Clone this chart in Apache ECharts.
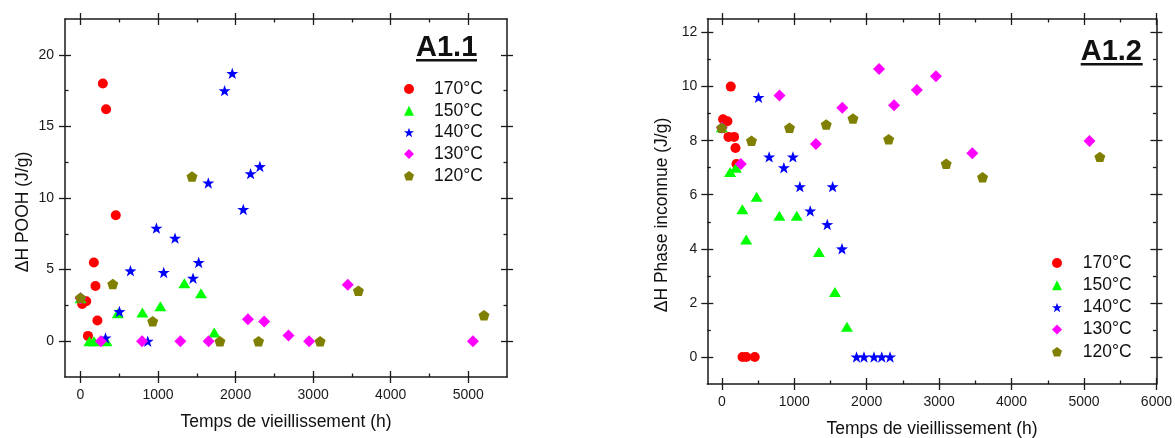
<!DOCTYPE html>
<html>
<head>
<meta charset="utf-8">
<script src="https://cdn.jsdelivr.net/npm/echarts@6/dist/echarts.min.js"></script>
<style>
html,body{margin:0;padding:0;background:#fff;}
#c{width:1175px;height:438px;}
</style>
</head>
<body>
<div id="c"></div>
<script>
// ---- Data ----
const seriesNames = ['170°C', '150°C', '140°C', '130°C', '120°C'];

// A1.1 : ΔH POOH (J/g) vs Temps (h)
const a11_170 = [[21,2.6],[74,2.79],[96,0.37],[172,5.5],[193,3.86],[218,1.44],[288,18.0],[330,16.2],[455,8.8]];
const a11_150 = [[0,3.0],[115,0],[175,0],[335,0],[481,1.95],[798,2.0],[1030,2.44],[1339,4.04],[1554,3.34],[1725,0.6]];
const a11_140 = [[322,0.23],[502,2.07],[644,4.92],[867,0],[979,7.9],[1073,4.8],[1219,7.2],[1451,4.4],[1524,5.5],[1648,11.05],[1858,17.5],[1957,18.7],[2099,9.2],[2193,11.7],[2313,12.2]];
const a11_130 = [[0,3.0],[262,0],[794,0],[1288,0],[1652,0],[2159,1.53],[2369,1.37],[2682,0.39],[2948,0],[3446,3.95],[5061,0]];
const a11_120 = [[0,3.04],[416,4.0],[931,1.39],[1438,11.5],[1798,0],[2296,0],[3090,0],[3584,3.53],[5203,1.81]];

// A1.2 : ΔH Phase inconnue (J/g) vs Temps (h)
const a12_170 = [[18,8.79],[78,8.72],[92,8.14],[124,10.0],[170,8.14],[189,7.73],[203,7.14],[286,0],[338,0],[455,0]];
const a12_150 = [[0,8.5],[115,6.84],[194,7.0],[284,5.46],[337,4.34],[481,5.93],[795,5.22],[1035,5.22],[1341,3.88],[1562,2.4],[1728,1.12]];
const a12_140 = [[507,9.6],[654,7.4],[857,7.0],[982,7.4],[1078,6.3],[1221,5.4],[1456,4.9],[1530,6.3],[1659,4.0],[1860,0],[1963,0],[2101,0],[2208,0],[2323,0]];
const a12_130 = [[0,8.48],[263,7.14],[797,9.67],[1300,7.88],[1664,9.22],[2171,10.65],[2378,9.31],[2693,9.87],[2956,10.38],[3458,7.53],[5076,7.99]];
const a12_120 = [[0,8.48],[410,8.0],[935,8.48],[1442,8.6],[1811,8.82],[2304,8.05],[3098,7.15],[3600,6.65],[5219,7.4]];

// Tick values
const xMajorL = [0,1000,2000,3000,4000,5000];
const xMinorL = [500,1500,2500,3500,4500];
const yMajorL = [0,5,10,15,20];
const yMinorL = [2.5,7.5,12.5,17.5];
const xMajorR = [0,1000,2000,3000,4000,5000,6000];
const xMinorR = [500,1500,2500,3500,4500,5500];
const yMajorR = [0,2,4,6,8,10,12];
const yMinorR = [1,3,5,7,9,11];

// ---- Styling helpers ----
const FONT = "'Liberation Sans', Arial, sans-serif";
const AX = '#1a1a1a';
const colors = ['#ff0000', '#00ff00', '#0000ff', '#ff00ff', '#808000'];
const STAR = 'path://M50,0L61.76,33.8L97.55,34.55L69,56.2L79.4,90.45L50,70L20.6,90.45L31,56.2L2.45,34.55L38.24,33.8Z';
const PENT = 'path://M50,0L97.55,34.55L79.4,90.45L20.6,90.45L2.45,34.55Z';
const symbols = ['circle', 'triangle', STAR, 'diamond', PENT];
const sizes = [10, [12, 10], 12, 12, 11];

function axesFor(grid, pos, min, max, majors, minors, withLabels, margin) {
  const base = {gridIndex: grid, type: 'value', min: min, max: max, position: pos,
    splitLine: {show: false}, silent: true};
  const tickStyle = {color: AX, width: 1.3};
  return [
    Object.assign({}, base, {
      axisLine: {show: true, onZero: false, lineStyle: {color: AX, width: 1.5}},
      axisTick: {show: true, inside: false, length: 6, customValues: majors, lineStyle: tickStyle},
      axisLabel: withLabels ? {show: true, customValues: majors, margin: margin, fontSize: 14,
        color: AX, fontFamily: FONT, formatter: function (v) { return String(v); }} : {show: false}
    }),
    Object.assign({}, base, {
      axisLine: {show: false, onZero: false},
      axisTick: {show: true, inside: true, length: 6, customValues: majors, lineStyle: tickStyle},
      axisLabel: {show: false}
    }),
    Object.assign({}, base, {
      axisLine: {show: false, onZero: false},
      axisTick: {show: true, inside: true, length: 3.5, customValues: minors, lineStyle: tickStyle},
      axisLabel: {show: false}
    })
  ];
}

const xAxes = [].concat(
  axesFor(0, 'bottom', -200, 5500, xMajorL, xMinorL, true, 11),
  axesFor(0, 'top', -200, 5500, xMajorL, xMinorL, false, 0),
  axesFor(1, 'bottom', -200, 6000, xMajorR, xMinorR, true, 11),
  axesFor(1, 'top', -200, 6000, xMajorR, xMinorR, false, 0)
);
const yAxes = [].concat(
  axesFor(0, 'left', -2.5, 22.5, yMajorL, yMinorL, true, 11),
  axesFor(0, 'right', -2.5, 22.5, yMajorL, yMinorL, false, 0),
  axesFor(1, 'left', -1, 12.5, yMajorR, yMinorR, true, 10),
  axesFor(1, 'right', -1, 12.5, yMajorR, yMinorR, false, 0)
);

const dataL = [a11_170, a11_150, a11_140, a11_130, a11_120];
const dataR = [a12_170, a12_150, a12_140, a12_130, a12_120];
const series = [];
function addSeries(arr, axisIdx) {
  arr.forEach(function (d, i) {
    series.push({
      name: seriesNames[i], type: 'scatter', xAxisIndex: axisIdx, yAxisIndex: axisIdx,
      data: d, symbol: symbols[i], symbolSize: sizes[i], symbolKeepAspect: true,
      itemStyle: {color: colors[i], opacity: 1}, silent: true, animation: false
    });
  });
}
addSeries(dataL, 0);
addSeries(dataR, 6);

const legendText = {fontSize: 17.5, lineHeight: 18, color: '#111', fontFamily: FONT, padding: [0, 0, 0, 15]};

const option = {
  animation: false,
  backgroundColor: '#ffffff',
  textStyle: {fontFamily: FONT},
  grid: [
    {left: 65, top: 19, width: 442, height: 358, containLabel: false},
    {left: 707.3, top: 19, width: 449.4, height: 365, containLabel: false}
  ],
  xAxis: xAxes,
  yAxis: yAxes,
  legend: [
    {data: seriesNames, orient: 'vertical', left: 404, top: 80, itemWidth: 10, itemHeight: 10,
      itemGap: 3.7, selectedMode: false, textStyle: legendText, padding: 0},
    {data: seriesNames, orient: 'vertical', left: 1052, top: 254, itemWidth: 10, itemHeight: 10,
      itemGap: 4.2, selectedMode: false, textStyle: Object.assign({}, legendText, {padding: [0, 0, 0, 15.7]}), padding: 0}
  ],
  graphic: [
    {type: 'text', x: 416, y: 47.5, style: {text: 'A1.1', font: "bold 29px " + FONT, fill: '#111',
      textAlign: 'left', textVerticalAlign: 'middle', verticalAlign: 'middle'}},
    {type: 'rect', shape: {x: 416, y: 59, width: 61, height: 2.5}, style: {fill: '#111'}},
    {type: 'text', x: 1080.7, y: 52, style: {text: 'A1.2', font: "bold 29px " + FONT, fill: '#111',
      textAlign: 'left', textVerticalAlign: 'middle', verticalAlign: 'middle'}},
    {type: 'rect', shape: {x: 1080.7, y: 63, width: 62, height: 2.5}, style: {fill: '#111'}},
    {type: 'text', x: 286, y: 422, style: {text: 'Temps de vieillissement (h)', font: "17.5px " + FONT,
      fill: '#111', textAlign: 'center', textVerticalAlign: 'middle', verticalAlign: 'middle'}},
    {type: 'text', x: 932, y: 429, style: {text: 'Temps de vieillissement (h)', font: "17.5px " + FONT,
      fill: '#111', textAlign: 'center', textVerticalAlign: 'middle', verticalAlign: 'middle'}},
    {type: 'text', x: 23, y: 212, rotation: Math.PI / 2, style: {text: 'ΔH POOH (J/g)', font: "17.5px " + FONT,
      fill: '#111', textAlign: 'center', textVerticalAlign: 'middle', verticalAlign: 'middle'}},
    {type: 'text', x: 662.5, y: 215, rotation: Math.PI / 2, style: {text: 'ΔH Phase inconnue (J/g)', font: "17.5px " + FONT,
      fill: '#111', textAlign: 'center', textVerticalAlign: 'middle', verticalAlign: 'middle'}}
  ],
  series: series
};

const chart = echarts.init(document.getElementById('c'), null, {renderer: 'canvas'});
chart.setOption(option);
</script>
</body>
</html>
